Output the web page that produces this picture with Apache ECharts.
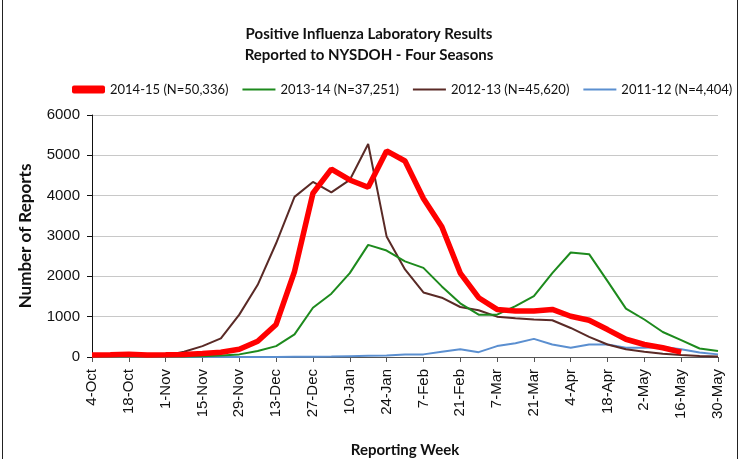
<!DOCTYPE html>
<html><head><meta charset="utf-8">
<script src="https://cdn.jsdelivr.net/npm/echarts@6/dist/echarts.min.js"></script>
<style>html,body{margin:0;padding:0;background:#fff}#c{width:741px;height:459px}</style>
</head><body><div id="c"></div>
<script>
const weeks = ['4-Oct','11-Oct','18-Oct','25-Oct','1-Nov','8-Nov','15-Nov','22-Nov','29-Nov','6-Dec','13-Dec','20-Dec','27-Dec','3-Jan','10-Jan','17-Jan','24-Jan','31-Jan','7-Feb','14-Feb','21-Feb','28-Feb','7-Mar','14-Mar','21-Mar','28-Mar','4-Apr','11-Apr','18-Apr','25-Apr','2-May','9-May','16-May','23-May','30-May'];
const s2014 = [50,55,70,50,55,65,85,120,190,390,807,2120,4060,4660,4390,4210,5110,4860,3930,3230,2080,1470,1180,1140,1140,1180,1010,910,680,440,310,230,120,null,null];
const s2013 = [10,10,10,10,10,15,20,35,65,150,270,560,1220,1570,2080,2780,2640,2370,2210,1750,1330,1050,1050,1260,1510,2080,2590,2550,1880,1200,930,620,420,210,150];
const s2012 = [30,35,40,35,40,130,270,460,1050,1790,2820,3970,4340,4080,4390,5280,2990,2170,1600,1470,1240,1160,1000,960,930,910,720,500,310,190,130,80,50,25,10];
const s2011 = [0,0,0,0,0,0,0,0,0,0,0,5,5,10,20,30,40,60,65,130,190,120,270,340,450,310,230,310,310,230,230,250,190,110,65];
const yTicks = [0,1000,2000,3000,4000,5000,6000];
const names = ['2014-15 (N=50,336)','2013-14 (N=37,251)','2012-13 (N=45,620)','2011-12 (N=4,404)'];

const chart = echarts.init(document.getElementById('c'));
const ff = 'Liberation Sans';
const cf = 'Lato, sans-serif';
chart.setOption({
  animation: false,
  backgroundColor: '#fff',
  graphic: [{type:'rect', shape:{x:2.5,y:-5,width:735,height:470}, style:{fill:'none', stroke:'#222', lineWidth:1}, silent:true}],
  title: {
    text: 'Positive Influenza Laboratory Results\nReported to NYSDOH - Four Seasons',
    left: 364, top: 19, textAlign: 'center',
    textStyle: {fontFamily: cf, fontSize: 15, fontWeight: 'bold', color: '#111', lineHeight: 21}
  },
  legend: {
    top: 78, left: 67,
    itemWidth: 33, itemHeight: 8, itemGap: 14,
    textStyle: {fontFamily: cf, fontSize: 13, color: '#111', padding: [0,0,0,0]},
    data: names.map((n,i)=>({name:n, icon: i===0 ? 'roundRect' : 'path://M0,0 L33,0 L33,2 L0,2 Z'}))
  },
  grid: {left: 92, right: 23, top: 115, bottom: 102, outerBoundsMode: 'none', containLabel: false},
  xAxis: {
    type: 'category', data: weeks, boundaryGap: false,
    name: 'Reporting Week', nameLocation: 'middle', nameGap: 86,
    nameTextStyle: {fontFamily: cf, fontSize: 15, fontWeight: 'bold', color: '#111'},
    axisLine: {lineStyle: {color: '#555', width: 1}},
    axisTick: {interval: 1, length: 5, lineStyle: {color: '#555'}},
    axisLabel: {interval: 1, rotate: 90, fontFamily: ff, fontSize: 15, color: '#111', margin: 12},
    splitLine: {show: false}
  },
  yAxis: {
    type: 'value', min: 0, max: 6000, interval: 1000,
    name: 'Number of Reports', nameLocation: 'middle', nameGap: 58,
    nameTextStyle: {fontFamily: cf, fontSize: 17, fontWeight: 'bold', color: '#111'},
    axisLine: {show: true, lineStyle: {color: '#111', width: 1}},
    axisTick: {show: true, inside: false, length: 5, lineStyle: {color: '#111'}},
    axisLabel: {fontFamily: ff, fontSize: 15, color: '#111', margin: 12,
      formatter: v => yTicks.includes(v) ? String(v) : ''},
    splitLine: {lineStyle: {color: '#c8c8c8', width: 1}}
  },
  series: [
    {name: names[3], type: 'line', data: s2011, showSymbol: false, z: 2, lineStyle: {color: '#5b8fd0', width: 2}, itemStyle: {color: '#5b8fd0'}},
    {name: names[2], type: 'line', data: s2012, showSymbol: false, z: 3, lineStyle: {color: '#5a2a26', width: 2}, itemStyle: {color: '#5a2a26'}},
    {name: names[1], type: 'line', data: s2013, showSymbol: false, z: 4, lineStyle: {color: '#1d8a1d', width: 2}, itemStyle: {color: '#1d8a1d'}},
    {name: names[0], type: 'line', data: s2014, showSymbol: false, z: 5, connectNulls: false, lineStyle: {color: '#ff0000', width: 5.5}, itemStyle: {color: '#ff0000'}}
  ]
});
</script></body></html>
